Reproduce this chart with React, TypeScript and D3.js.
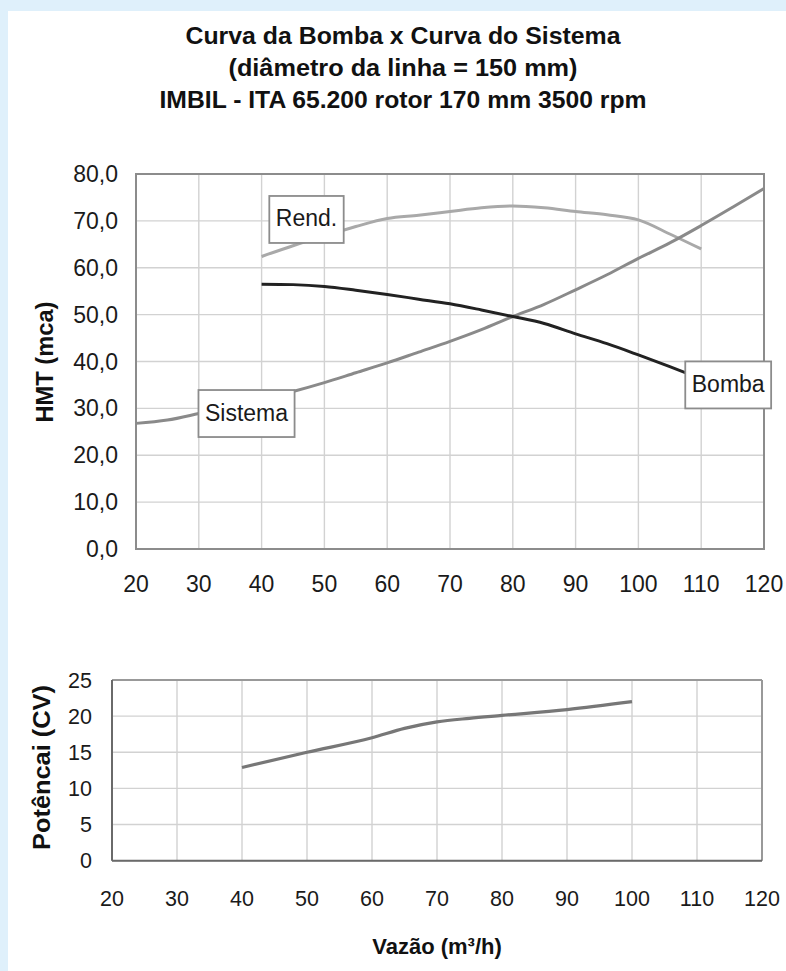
import React, { useEffect, useRef } from 'react';
import * as d3 from 'd3';

const titleLines = [
  'Curva da Bomba x Curva do Sistema',
  '(diâmetro da linha = 150 mm)',
  'IMBIL - ITA 65.200 rotor 170 mm 3500 rpm',
];
const titleWidths = [435, 349, 487];

const flowTicks = [20, 30, 40, 50, 60, 70, 80, 90, 100, 110, 120];
const hmtTicks = [0, 10, 20, 30, 40, 50, 60, 70, 80];
const powerTicks = [0, 5, 10, 15, 20, 25];

const flowSistema = [20, 25, 30, 35, 40, 45, 50, 55, 60, 65, 70, 75, 80, 85, 90, 95, 100, 105, 110, 115, 120];
const hmtSistema = [26.8, 27.5, 28.9, 30.4, 31.9, 33.6, 35.5, 37.6, 39.7, 42.0, 44.3, 46.8, 49.6, 52.2, 55.3, 58.5, 62.0, 65.3, 69.0, 72.9, 76.9];

const flowBomba = [40, 45, 50, 55, 60, 65, 70, 75, 80, 85, 90, 95, 100, 105, 110];
const hmtBomba = [56.5, 56.4, 56.0, 55.2, 54.3, 53.3, 52.3, 51.0, 49.6, 48.1, 45.9, 43.8, 41.4, 38.9, 36.3];

const flowRend = [40, 45, 50, 55, 60, 65, 70, 75, 80, 85, 90, 95, 100, 105, 110];
const rendValues = [62.4, 64.7, 66.8, 68.8, 70.5, 71.2, 72.0, 72.8, 73.2, 72.8, 72.0, 71.3, 70.2, 67.2, 64.0];

const flowPower = [40, 50, 60, 65, 70, 75, 80, 90, 100];
const powerValues = [12.9, 15.0, 17.0, 18.3, 19.2, 19.7, 20.1, 20.9, 22.0];

// label annotations anchored in data coordinates (flow, value)
const labelTexts = ['Rend.', 'Sistema', 'Bomba'];
const labelFlows = [47.15, 37.6, 114.3];
const labelValues = [70.3, 28.9, 35.0];

const FONT = '"Liberation Sans", Arial, Helvetica, sans-serif';

export default function App() {
  const ref = useRef<SVGSVGElement>(null);

  useEffect(() => {
    document.body.style.margin = '0';
    const svg = d3.select(ref.current as SVGSVGElement);
    svg.selectAll('*').remove();
    svg.attr('font-family', FONT);

    // background
    svg.append('rect').attr('x', 0).attr('y', 0).attr('width', 786).attr('height', 971).attr('fill', '#dff0fb');
    svg.append('rect').attr('x', 8).attr('y', 11).attr('width', 778).attr('height', 960).attr('fill', '#ffffff');

    // title
    const titleBaselines = [44, 76, 108];
    titleLines.forEach((t, i) => {
      svg.append('text')
        .attr('x', 403).attr('y', titleBaselines[i])
        .attr('text-anchor', 'middle')
        .attr('font-size', 23).attr('font-weight', 'bold').attr('fill', '#111')
        .attr('textLength', titleWidths[i]).attr('lengthAdjust', 'spacingAndGlyphs')
        .text(t);
    });

    // ---------- top chart ----------
    const x = d3.scaleLinear().domain([20, 120]).range([136, 764]);
    const y = d3.scaleLinear().domain([0, 80]).range([549, 174]);
    const top = svg.append('g');
    const fmt = (v: number) => d3.format('.1f')(v).replace('.', ',');

    top.selectAll('line.vg').data(flowTicks).enter().append('line')
      .attr('x1', (d) => x(d)).attr('x2', (d) => x(d))
      .attr('y1', y(0)).attr('y2', y(80))
      .attr('stroke', '#d2d2d2').attr('stroke-width', 1.4);
    top.selectAll('line.hg').data(hmtTicks).enter().append('line')
      .attr('x1', x(20)).attr('x2', x(120))
      .attr('y1', (d) => y(d)).attr('y2', (d) => y(d))
      .attr('stroke', '#d2d2d2').attr('stroke-width', 1.4);
    top.append('rect')
      .attr('x', x(20)).attr('y', y(80)).attr('width', x(120) - x(20)).attr('height', y(0) - y(80))
      .attr('fill', 'none').attr('stroke', '#8c8c8c').attr('stroke-width', 2);

    top.selectAll('text.xt').data(flowTicks).enter().append('text')
      .attr('x', (d) => x(d)).attr('y', 592)
      .attr('text-anchor', 'middle').attr('font-size', 23).attr('fill', '#1a1a1a')
      .text((d) => String(d));
    top.selectAll('text.yt').data(hmtTicks).enter().append('text')
      .attr('x', 118).attr('y', (d) => y(d) + 8)
      .attr('text-anchor', 'end').attr('font-size', 23).attr('fill', '#1a1a1a')
      .text((d) => fmt(d));

    top.append('text')
      .attr('transform', 'translate(53,362) rotate(-90)')
      .attr('text-anchor', 'middle').attr('font-size', 23).attr('font-weight', 'bold').attr('fill', '#111')
      .attr('textLength', 121).attr('lengthAdjust', 'spacingAndGlyphs')
      .text('HMT (mca)');

    const mkLine = (xs: number[], ys: number[]) =>
      d3.line<number>().x((_, i) => x(xs[i])).y((d) => y(d)).curve(d3.curveMonotoneX)(ys) as string;

    top.append('path').attr('d', mkLine(flowRend, rendValues))
      .attr('fill', 'none').attr('stroke', '#a9a9a9').attr('stroke-width', 3).attr('stroke-linejoin', 'round');
    top.append('path').attr('d', mkLine(flowSistema, hmtSistema))
      .attr('fill', 'none').attr('stroke', '#8a8a8a').attr('stroke-width', 3).attr('stroke-linejoin', 'round');
    top.append('path').attr('d', mkLine(flowBomba, hmtBomba))
      .attr('fill', 'none').attr('stroke', '#222222').attr('stroke-width', 3).attr('stroke-linejoin', 'round');

    labelTexts.forEach((t, i) => {
      const cx = x(labelFlows[i]);
      const cy = y(labelValues[i]);
      const g = top.append('g');
      const rect = g.append('rect');
      const txt = g.append('text')
        .attr('x', cx).attr('y', cy + 7)
        .attr('text-anchor', 'middle').attr('font-size', 23).attr('fill', '#1a1a1a')
        .text(t);
      const w = (txt.node() as SVGTextElement).getComputedTextLength() + 13;
      rect.attr('x', cx - w / 2).attr('y', cy - 23.5).attr('width', w).attr('height', 47)
        .attr('fill', '#ffffff').attr('stroke', '#8c8c8c').attr('stroke-width', 1.8);
    });

    // ---------- bottom chart ----------
    const x2 = d3.scaleLinear().domain([20, 120]).range([112, 762]);
    const y2 = d3.scaleLinear().domain([0, 25]).range([860.7, 680]);
    const bot = svg.append('g');

    bot.selectAll('line.vg').data(flowTicks).enter().append('line')
      .attr('x1', (d) => x2(d)).attr('x2', (d) => x2(d))
      .attr('y1', y2(0)).attr('y2', y2(25))
      .attr('stroke', '#d2d2d2').attr('stroke-width', 1.4);
    bot.selectAll('line.hg').data(powerTicks).enter().append('line')
      .attr('x1', x2(20)).attr('x2', x2(120))
      .attr('y1', (d) => y2(d)).attr('y2', (d) => y2(d))
      .attr('stroke', '#d2d2d2').attr('stroke-width', 1.4);
    // frame: top/right grey, left/bottom darker
    bot.append('line').attr('x1', x2(20)).attr('x2', x2(120)).attr('y1', y2(25)).attr('y2', y2(25))
      .attr('stroke', '#999').attr('stroke-width', 2);
    bot.append('line').attr('x1', x2(120)).attr('x2', x2(120)).attr('y1', y2(25)).attr('y2', y2(0))
      .attr('stroke', '#999').attr('stroke-width', 2);
    bot.append('line').attr('x1', x2(20)).attr('x2', x2(20)).attr('y1', y2(25)).attr('y2', y2(0))
      .attr('stroke', '#6a6a6a').attr('stroke-width', 2);
    bot.append('line').attr('x1', x2(20)).attr('x2', x2(120)).attr('y1', y2(0)).attr('y2', y2(0))
      .attr('stroke', '#6a6a6a').attr('stroke-width', 2);

    bot.selectAll('text.xt').data(flowTicks).enter().append('text')
      .attr('x', (d) => x2(d)).attr('y', 906)
      .attr('text-anchor', 'middle').attr('font-size', 21.5).attr('fill', '#1a1a1a')
      .text((d) => String(d));
    bot.selectAll('text.yt').data(powerTicks).enter().append('text')
      .attr('x', 92).attr('y', (d) => y2(d) + 7.5)
      .attr('text-anchor', 'end').attr('font-size', 21.5).attr('fill', '#1a1a1a')
      .text((d) => String(d));

    bot.append('text')
      .attr('transform', 'translate(50,767.5) rotate(-90)')
      .attr('text-anchor', 'middle').attr('font-size', 23).attr('font-weight', 'bold').attr('fill', '#111')
      .attr('textLength', 165).attr('lengthAdjust', 'spacingAndGlyphs')
      .text('Potêncai (CV)');
    bot.append('text')
      .attr('x', 437).attr('y', 954)
      .attr('text-anchor', 'middle').attr('font-size', 22).attr('font-weight', 'bold').attr('fill', '#111')
      .text('Vazão (m³/h)');

    const powerLine = d3.line<number>()
      .x((_, i) => x2(flowPower[i])).y((d) => y2(d)).curve(d3.curveMonotoneX)(powerValues) as string;
    bot.append('path').attr('d', powerLine)
      .attr('fill', 'none').attr('stroke', '#777777').attr('stroke-width', 3.2).attr('stroke-linejoin', 'round');
  }, []);

  return <svg ref={ref} width={786} height={971} style={{ display: 'block' }} />;
}
